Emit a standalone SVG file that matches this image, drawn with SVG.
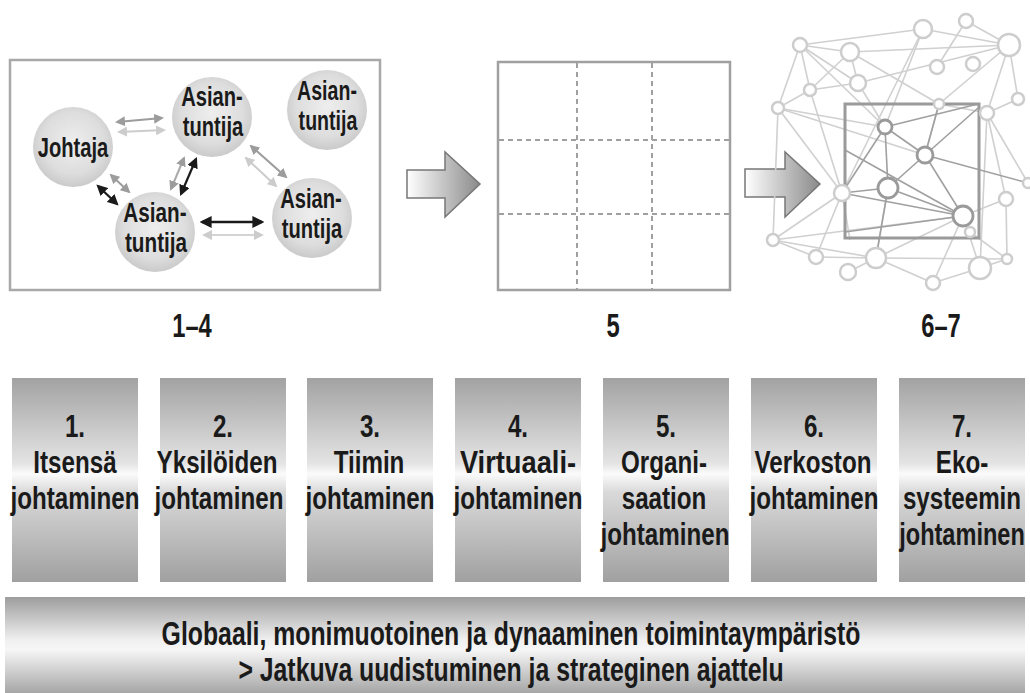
<svg xmlns="http://www.w3.org/2000/svg" width="1030" height="693" viewBox="0 0 1030 693">
<defs>
<style>
.t{font-family:"Liberation Sans",Arial,sans-serif;font-weight:bold;fill:#1a1a1a;text-anchor:middle}
.cn{font-size:28px}
.bt{font-size:31px}
.lb{font-size:33px}
.gl{font-size:34px}
.ring{fill:url(#ball);stroke:none}
.on{fill:#fff;stroke:#cdcdcd;stroke-width:2.5}
.in{fill:#fff;stroke:#9a9a9a;stroke-width:2.8}
.oe{stroke:#d0d0d0;stroke-width:1.6;fill:none}
.ie{stroke:#a0a0a0;stroke-width:1.6;fill:none}
.bar{fill:url(#barg)}
.blk{fill:url(#arrg);stroke:#777;stroke-width:1.5}
</style>
<radialGradient id="ball" cx="50%" cy="45%" r="55%">
<stop offset="0" stop-color="#eeeeee"/>
<stop offset="0.7" stop-color="#dddddd"/>
<stop offset="1" stop-color="#cacaca"/>
</radialGradient>
<linearGradient id="barg" x1="0" y1="0" x2="0" y2="1">
<stop offset="0" stop-color="#a2a2a2"/>
<stop offset="0.42" stop-color="#e4e4e4"/>
<stop offset="0.47" stop-color="#fbfbfb"/>
<stop offset="0.56" stop-color="#d9d9d9"/>
<stop offset="1" stop-color="#a0a0a0"/>
</linearGradient>
<linearGradient id="bigg" x1="0" y1="0" x2="0" y2="1">
<stop offset="0" stop-color="#9d9d9d"/>
<stop offset="0.45" stop-color="#f0f0f0"/>
<stop offset="0.55" stop-color="#f6f6f6"/>
<stop offset="1" stop-color="#a6a6a6"/>
</linearGradient>
<linearGradient id="arrg" x1="0" y1="0" x2="1" y2="0">
<stop offset="0" stop-color="#ffffff"/>
<stop offset="1" stop-color="#8a8a8a"/>
</linearGradient>
<marker id="mk" viewBox="0 0 10 10" refX="8" refY="5" markerWidth="5" markerHeight="5" orient="auto-start-reverse" markerUnits="strokeWidth"><path d="M0,0 L10,5 L0,10 z" fill="#1a1a1a"/></marker>
<marker id="mm" viewBox="0 0 10 10" refX="8" refY="5" markerWidth="5" markerHeight="5" orient="auto-start-reverse" markerUnits="strokeWidth"><path d="M0,0 L10,5 L0,10 z" fill="#9c9c9c"/></marker>
<marker id="ml" viewBox="0 0 10 10" refX="8" refY="5" markerWidth="5" markerHeight="5" orient="auto-start-reverse" markerUnits="strokeWidth"><path d="M0,0 L10,5 L0,10 z" fill="#cccccc"/></marker>
</defs>

<rect width="1030" height="693" fill="#fff"/>

<!-- Panel 1 -->
<g id="panel1">
<rect x="10" y="60" width="370" height="230" fill="#fff" stroke="#a8a8a8" stroke-width="2.5"/>
</g>
<g id="connectors">
<line x1="117" y1="122" x2="162" y2="118" stroke="#9c9c9c" stroke-width="2" marker-start="url(#mm)" marker-end="url(#mm)"/>
<line x1="119" y1="132" x2="164" y2="130" stroke="#cccccc" stroke-width="2" marker-start="url(#ml)" marker-end="url(#ml)"/>
<line x1="98" y1="186" x2="117" y2="204" stroke="#1a1a1a" stroke-width="2.2" marker-start="url(#mk)" marker-end="url(#mk)"/>
<line x1="111" y1="175" x2="129" y2="192" stroke="#9c9c9c" stroke-width="2" marker-start="url(#mm)" marker-end="url(#mm)"/>
<line x1="171" y1="189" x2="184" y2="158" stroke="#aaaaaa" stroke-width="2" marker-start="url(#mm)" marker-end="url(#mm)"/>
<line x1="181" y1="194" x2="196" y2="159" stroke="#1a1a1a" stroke-width="2.2" marker-start="url(#mk)" marker-end="url(#mk)"/>
<line x1="251" y1="146" x2="286" y2="177" stroke="#9c9c9c" stroke-width="2" marker-start="url(#mm)" marker-end="url(#mm)"/>
<line x1="246" y1="158" x2="276" y2="186" stroke="#cccccc" stroke-width="2" marker-start="url(#ml)" marker-end="url(#ml)"/>
<line x1="202" y1="222" x2="262" y2="222" stroke="#1a1a1a" stroke-width="2.4" marker-start="url(#mk)" marker-end="url(#mk)"/>
<line x1="204" y1="235" x2="262" y2="235" stroke="#d4d4d4" stroke-width="2" marker-start="url(#ml)" marker-end="url(#ml)"/>
</g>
<g id="n-johtaja">
<circle class="ring" cx="73" cy="147" r="40"/>
<text class="t cn" transform="translate(73,157) scale(0.72,1)">Johtaja</text>
</g>
<g id="n-asiantuntija-top">
<circle class="ring" cx="212" cy="117" r="40"/>
<text class="t cn" transform="translate(212,106) scale(0.72,1)">Asian-</text>
<text class="t cn" transform="translate(213,136) scale(0.72,1)">tuntija</text>
</g>
<g id="n-asiantuntija-tr">
<circle class="ring" cx="327" cy="110" r="40"/>
<text class="t cn" transform="translate(327,100) scale(0.7,1)">Asian-</text>
<text class="t cn" transform="translate(328,130) scale(0.7,1)">tuntija</text>
</g>
<g id="n-asiantuntija-bl">
<circle class="ring" cx="155" cy="232" r="40"/>
<text class="t cn" transform="translate(155,222) scale(0.74,1)">Asian-</text>
<text class="t cn" transform="translate(156,252) scale(0.74,1)">tuntija</text>
</g>
<g id="n-asiantuntija-r">
<circle class="ring" cx="312" cy="218" r="40"/>
<text class="t cn" transform="translate(311,208) scale(0.72,1)">Asian-</text>
<text class="t cn" transform="translate(312,238) scale(0.72,1)">tuntija</text>
</g>

<!-- Block arrows -->
<g id="arrow1"><polygon class="blk" points="407,170 445,170 445,152 480,184 445,217 445,198 407,198"/></g>
<g id="arrow2"><polygon class="blk" points="745,169 785,169 785,152 820,184 785,217 785,197 745,197"/></g>

<!-- Panel 2 grid -->
<g id="panel2">
<rect x="498" y="62" width="232" height="228" fill="#fff" stroke="#a0a0a0" stroke-width="2.5"/>
<g stroke="#a0a0a0" stroke-width="2" stroke-dasharray="5 4">
<line x1="577" y1="63" x2="577" y2="289"/>
<line x1="652" y1="63" x2="652" y2="289"/>
<line x1="499" y1="140" x2="729" y2="140"/>
<line x1="499" y1="214" x2="729" y2="214"/>
</g>
</g>

<!-- Network panel -->
<g id="network">
<g class="oe">
<line x1="800" y1="45" x2="850" y2="52"/>
<line x1="800" y1="45" x2="923" y2="29"/>
<line x1="800" y1="45" x2="810" y2="90"/>
<line x1="800" y1="45" x2="778" y2="108"/>
<line x1="800" y1="45" x2="858" y2="83"/>
<line x1="800" y1="45" x2="885" y2="127"/>
<line x1="850" y1="52" x2="1009" y2="45"/>
<line x1="850" y1="52" x2="858" y2="83"/>
<line x1="850" y1="52" x2="810" y2="90"/>
<line x1="850" y1="52" x2="939" y2="104"/>
<line x1="923" y1="29" x2="1009" y2="45"/>
<line x1="923" y1="29" x2="885" y2="127"/>
<line x1="923" y1="29" x2="842" y2="193"/>
<line x1="966" y1="21" x2="1009" y2="45"/>
<line x1="966" y1="21" x2="937" y2="67"/>
<line x1="1009" y1="45" x2="1018" y2="99"/>
<line x1="1009" y1="45" x2="987" y2="113"/>
<line x1="1009" y1="45" x2="939" y2="104"/>
<line x1="1009" y1="45" x2="858" y2="83"/>
<line x1="858" y1="83" x2="810" y2="90"/>
<line x1="858" y1="83" x2="885" y2="127"/>
<line x1="810" y1="90" x2="778" y2="108"/>
<line x1="810" y1="90" x2="842" y2="193"/>
<line x1="778" y1="108" x2="885" y2="127"/>
<line x1="778" y1="108" x2="925" y2="155"/>
<line x1="778" y1="108" x2="842" y2="193"/>
<line x1="778" y1="108" x2="773" y2="240"/>
<line x1="939" y1="104" x2="925" y2="155"/>
<line x1="939" y1="104" x2="987" y2="113"/>
<line x1="987" y1="113" x2="1028" y2="183"/>
<line x1="987" y1="113" x2="1006" y2="199"/>
<line x1="987" y1="113" x2="980" y2="268"/>
<line x1="1018" y1="99" x2="987" y2="113"/>
<line x1="1006" y1="199" x2="1007" y2="259"/>
<line x1="1006" y1="199" x2="963" y2="216"/>
<line x1="842" y1="193" x2="773" y2="240"/>
<line x1="842" y1="193" x2="816" y2="257"/>
<line x1="773" y1="240" x2="963" y2="216"/>
<line x1="773" y1="240" x2="816" y2="257"/>
<line x1="773" y1="240" x2="876" y2="258"/>
<line x1="816" y1="257" x2="876" y2="258"/>
<line x1="876" y1="258" x2="1007" y2="259"/>
<line x1="876" y1="258" x2="933" y2="283"/>
<line x1="876" y1="258" x2="888" y2="188"/>
<line x1="876" y1="258" x2="963" y2="216"/>
<line x1="848" y1="272" x2="876" y2="258"/>
<line x1="933" y1="283" x2="963" y2="216"/>
<line x1="980" y1="268" x2="963" y2="216"/>
<line x1="980" y1="268" x2="1007" y2="259"/>
<line x1="980" y1="268" x2="933" y2="283"/>
<line x1="970" y1="232" x2="1007" y2="259"/>
<line x1="842" y1="193" x2="850" y2="240"/>
</g>
<g class="ie">
<line x1="885" y1="127" x2="925" y2="155"/>
<line x1="885" y1="127" x2="888" y2="188"/>
<line x1="885" y1="127" x2="842" y2="193"/>
<line x1="885" y1="127" x2="978" y2="104"/>
<line x1="925" y1="155" x2="888" y2="188"/>
<line x1="925" y1="155" x2="963" y2="216"/>
<line x1="925" y1="155" x2="978" y2="108"/>
<line x1="925" y1="155" x2="1028" y2="183"/>
<line x1="888" y1="188" x2="963" y2="216"/>
<line x1="842" y1="193" x2="888" y2="188"/>
<line x1="842" y1="193" x2="963" y2="216"/>
<line x1="845" y1="150" x2="963" y2="216"/>
<line x1="845" y1="232" x2="963" y2="216"/>
<line x1="939" y1="104" x2="925" y2="155"/>
<line x1="888" y1="188" x2="876" y2="258"/>
</g>
<rect x="845" y="104" width="134" height="134" fill="none" stroke="#9a9a9a" stroke-width="3"/>
<g>
<circle class="on" cx="800" cy="45" r="7"/>
<circle class="on" cx="850" cy="52" r="9"/>
<circle class="on" cx="923" cy="29" r="9"/>
<circle class="on" cx="966" cy="21" r="7"/>
<circle class="on" cx="1009" cy="45" r="11"/>
<circle class="on" cx="937" cy="67" r="7"/>
<circle class="on" cx="973" cy="64" r="7"/>
<circle class="on" cx="858" cy="83" r="8"/>
<circle class="on" cx="810" cy="90" r="6"/>
<circle class="on" cx="778" cy="108" r="6"/>
<circle class="on" cx="1018" cy="99" r="6"/>
<circle class="on" cx="987" cy="113" r="7"/>
<circle class="on" cx="939" cy="104" r="5"/>
<circle class="on" cx="1028" cy="183" r="5"/>
<circle class="on" cx="1006" cy="199" r="7"/>
<circle class="on" cx="773" cy="240" r="6"/>
<circle class="on" cx="816" cy="257" r="7"/>
<circle class="on" cx="876" cy="258" r="10"/>
<circle class="on" cx="848" cy="272" r="8"/>
<circle class="on" cx="933" cy="283" r="7"/>
<circle class="on" cx="980" cy="268" r="11"/>
<circle class="on" cx="1007" cy="259" r="5"/>
<circle class="on" cx="970" cy="232" r="5"/>
<circle class="on" cx="842" cy="193" r="8"/>
<circle class="in" cx="885" cy="127" r="7"/>
<circle class="in" cx="925" cy="155" r="8"/>
<circle class="in" cx="888" cy="188" r="10"/>
<circle class="in" cx="963" cy="216" r="10"/>
</g>
</g>

<!-- Stage labels -->
<g id="labels">
<text class="t lb" transform="translate(192,337) scale(0.72,1)">1–4</text>
<text class="t lb" transform="translate(613,337) scale(0.72,1)">5</text>
<text class="t lb" transform="translate(941,337) scale(0.72,1)">6–7</text>
</g>

<!-- Bars -->
<g id="bar1">
<rect class="bar" x="12" y="378" width="126" height="204"/>
<text class="t bt" transform="translate(75,437) scale(0.78,1)">1.</text>
<text class="t bt" transform="translate(75,473) scale(0.78,1)">Itsensä</text>
<text class="t bt" transform="translate(75,509) scale(0.78,1)">johtaminen</text>
</g>
<g id="bar2">
<rect class="bar" x="160" y="378" width="126" height="204"/>
<text class="t bt" transform="translate(223,437) scale(0.78,1)">2.</text>
<text class="t bt" transform="translate(217,473) scale(0.78,1)">Yksilöiden</text>
<text class="t bt" transform="translate(219,509) scale(0.78,1)">johtaminen</text>
</g>
<g id="bar3">
<rect class="bar" x="307" y="378" width="126" height="204"/>
<text class="t bt" transform="translate(370,437) scale(0.78,1)">3.</text>
<text class="t bt" transform="translate(369,473) scale(0.78,1)">Tiimin</text>
<text class="t bt" transform="translate(370,509) scale(0.78,1)">johtaminen</text>
</g>
<g id="bar4">
<rect class="bar" x="455" y="378" width="126" height="204"/>
<text class="t bt" transform="translate(518,437) scale(0.78,1)">4.</text>
<text class="t bt" transform="translate(518,473) scale(0.88,1)">Virtuaali-</text>
<text class="t bt" transform="translate(518,509) scale(0.78,1)">johtaminen</text>
</g>
<g id="bar5">
<rect class="bar" x="603" y="378" width="126" height="204"/>
<text class="t bt" transform="translate(666,437) scale(0.78,1)">5.</text>
<text class="t bt" transform="translate(664,473) scale(0.78,1)">Organi-</text>
<text class="t bt" transform="translate(664,509) scale(0.78,1)">saation</text>
<text class="t bt" transform="translate(665,545) scale(0.78,1)">johtaminen</text>
</g>
<g id="bar6">
<rect class="bar" x="751" y="378" width="126" height="204"/>
<text class="t bt" transform="translate(814,437) scale(0.78,1)">6.</text>
<text class="t bt" transform="translate(813,473) scale(0.78,1)">Verkoston</text>
<text class="t bt" transform="translate(814,509) scale(0.78,1)">johtaminen</text>
</g>
<g id="bar7">
<rect class="bar" x="899" y="378" width="126" height="204"/>
<text class="t bt" transform="translate(962,437) scale(0.78,1)">7.</text>
<text class="t bt" transform="translate(962,473) scale(0.78,1)">Eko-</text>
<text class="t bt" transform="translate(962,509) scale(0.78,1)">systeemin</text>
<text class="t bt" transform="translate(962,545) scale(0.76,1)">johtaminen</text>
</g>

<g id="bottom-bar">
<rect x="5" y="597" width="1020" height="96" fill="url(#bigg)"/>
<text class="t gl" transform="translate(511,645) scale(0.73,1)">Globaali, monimuotoinen ja dynaaminen toimintaympäristö</text>
<text class="t gl" transform="translate(511,681) scale(0.73,1)">&gt; Jatkuva uudistuminen ja strateginen ajattelu</text>
</g>
</svg>
